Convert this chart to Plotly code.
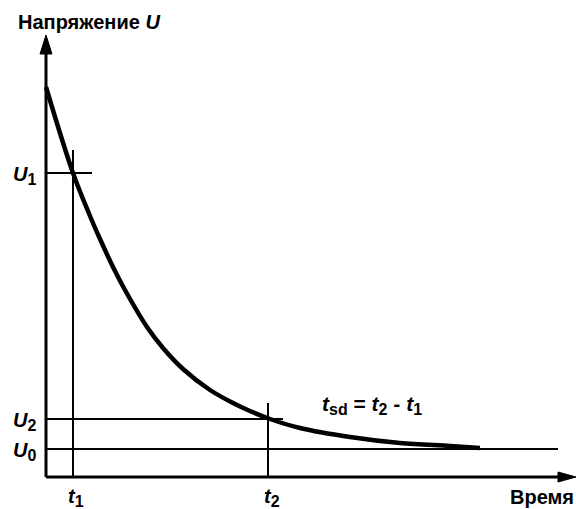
import plotly.graph_objects as go

# Curve (time, voltage) in arbitrary units
curve_t = [0, 27, 44, 54, 67, 79, 101, 117, 137, 164, 187, 204, 224, 254, 304, 354, 404, 434]
curve_u = [390, 304, 261, 238, 210, 187, 150, 129, 108, 87, 74, 66, 58, 49, 40, 34, 31, 29]

# Characteristic levels and times
U0 = 28
U1 = 304
U2 = 58
t1 = 27
t2 = 222

# Guide line extents
u1_line_end = 46
u2_line_end = 237
u0_line_end = 512
t1_line_top = 327
t2_line_top = 74
x_axis_end = 513
y_axis_end = 425

BLACK = "#000000"
FONT = "Liberation Sans, Arial, sans-serif"

fig = go.Figure()

def seg(xs, ys, w):
    fig.add_trace(go.Scatter(x=xs, y=ys, mode="lines",
                             line=dict(color=BLACK, width=w),
                             hoverinfo="skip", showlegend=False))

# axes
seg([0, 0], [0, y_axis_end], 3)
seg([0, x_axis_end], [0, 0], 3)
# guide lines
seg([0, u1_line_end], [U1, U1], 2)
seg([0, u2_line_end], [U2, U2], 2)
seg([0, u0_line_end], [U0, U0], 2)
seg([t1, t1], [0, t1_line_top], 2)
seg([t2, t2], [0, t2_line_top], 2)

# decay curve
fig.add_trace(go.Scatter(x=curve_t, y=curve_u, mode="lines",
                         line=dict(color=BLACK, width=4.5, shape="spline", smoothing=1.0),
                         hoverinfo="skip", showlegend=False))

# arrow heads
fig.add_shape(type="path", path="M -6,423 L 6,423 L 0,442 Z",
              fillcolor=BLACK, line=dict(color=BLACK, width=1), xref="x", yref="y")
fig.add_shape(type="path", path="M 512,-5 L 512,5 L 530,0 Z",
              fillcolor=BLACK, line=dict(color=BLACK, width=1), xref="x", yref="y")

def label(x, y, text, xanchor="center", yanchor="middle", size=17):
    fig.add_annotation(x=x, y=y, text=text, showarrow=False, xref="x", yref="y",
                       xanchor=xanchor, yanchor=yanchor,
                       font=dict(family=FONT, size=size, color=BLACK))

def sub(s):
    return "<sub><span style='font-size:16px'>%s</span></sub>" % s

def sym(base, s):
    return "<b><i>%s</i>%s</b>" % (base, sub(s))

label(43, 455, "<b>Напряжение <i>U</i></b>", size=20)
label(-8, U1 - 2, sym("U", "1"), xanchor="right", size=20)
label(-8, U2 - 2, sym("U", "2"), xanchor="right", size=20)
label(-8, U0 - 2, sym("U", "0"), xanchor="right", size=20)
label(t1 + 3, -20, sym("t", "1"), size=20)
label(t2 + 4, -20, sym("t", "2"), size=20)
label(530, -20, "<b>Время</b>", xanchor="right", size=20)
label(326, 72, "<b><i>t</i>%s = <i>t</i>%s - <i>t</i>%s</b>" % (sub("sd"), sub("2"), sub("1")), size=21)

fig.update_layout(
    width=576, height=509,
    margin=dict(l=0, r=0, t=0, b=0),
    paper_bgcolor="white", plot_bgcolor="white",
    xaxis=dict(range=[-46, 530], visible=False, fixedrange=True),
    yaxis=dict(range=[-32, 477], visible=False, fixedrange=True),
)

fig.write_html("out.html", config={"displayModeBar": False},
               post_script="document.body.style.margin='0px';")
